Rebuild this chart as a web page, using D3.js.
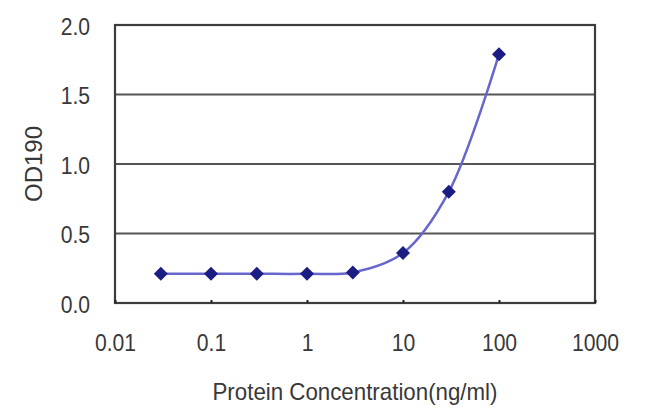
<!DOCTYPE html>
<html><head><meta charset="utf-8">
<script src="https://cdn.jsdelivr.net/npm/d3@7"></script>
<style>body{margin:0;background:#fff}svg{display:block}</style>
</head><body>
<script>
const concentrations = [0.03, 0.1, 0.3, 1, 3, 10, 30, 100];
const odValues = [0.21, 0.21, 0.21, 0.21, 0.22, 0.36, 0.80, 1.79];
const xTicks = [0.01, 0.1, 1, 10, 100, 1000];
const xTickLabels = ["0.01", "0.1", "1", "10", "100", "1000"];
const yTicks = [0, 0.5, 1.0, 1.5, 2.0];
const yTickLabels = ["0.0", "0.5", "1.0", "1.5", "2.0"];
const xTitle = "Protein Concentration(ng/ml)";
const yTitle = "OD190";

const W = 650, H = 420;
const m = {left: 115, right: 55, top: 25, bottom: 117};
const svg = d3.select("body").append("svg").attr("width", W).attr("height", H);
const font = "Liberation Sans, Arial, sans-serif";
const textColor = "#383838";
const fs = 24, sx = 0.88;

const x = d3.scaleLog().domain([0.01, 1000]).range([m.left, W - m.right]);
const y = d3.scaleLinear().domain([0, 2]).range([H - m.bottom, m.top]);

// gridlines
svg.append("g").selectAll("line").data(yTicks.filter(d => d > 0 && d < 2)).join("line")
  .attr("x1", m.left).attr("x2", W - m.right)
  .attr("y1", d => y(d)).attr("y2", d => y(d))
  .attr("stroke", "#555").attr("stroke-width", 2.2);

// frame
svg.append("rect").attr("x", m.left).attr("y", m.top)
  .attr("width", W - m.left - m.right).attr("height", H - m.top - m.bottom)
  .attr("fill", "none").attr("stroke", "#3c3c3c").attr("stroke-width", 2.2);

// x axis (ticks inward)
const xAxis = d3.axisBottom(x).tickValues(xTicks)
  .tickFormat((d, i) => xTickLabels[i]).tickSizeInner(-3).tickSizeOuter(0).tickPadding(0);
const gx = svg.append("g").attr("transform", `translate(0,${H - m.bottom})`).call(xAxis);
gx.select(".domain").remove();
gx.selectAll(".tick line").attr("stroke", "#222").attr("stroke-width", 2);
gx.selectAll(".tick text")
  .attr("y", 0).attr("dy", null)
  .attr("transform", `translate(0,48) scale(${sx},1)`)
  .attr("font-family", font).attr("font-size", fs).attr("fill", textColor);

// y axis
const yAxis = d3.axisLeft(y).tickValues(yTicks)
  .tickFormat((d, i) => yTickLabels[i]).tickSize(0).tickPadding(0);
const gy = svg.append("g").attr("transform", `translate(${m.left},0)`).call(yAxis);
gy.select(".domain").remove();
gy.selectAll(".tick text")
  .attr("x", 0).attr("dy", null).attr("y", 0)
  .attr("transform", `translate(-25,9) scale(${sx},1)`)
  .attr("font-family", font).attr("font-size", fs).attr("fill", textColor);

// titles
svg.append("text").attr("x", 355).attr("y", 400).attr("text-anchor", "middle")
  .attr("font-family", font).attr("font-size", fs).attr("fill", textColor)
  .attr("textLength", 285).attr("lengthAdjust", "spacingAndGlyphs").text(xTitle);
svg.append("text").attr("transform", "translate(42,164) rotate(-90)").attr("text-anchor", "middle")
  .attr("font-family", font).attr("font-size", fs).attr("fill", textColor)
  .attr("textLength", 76).attr("lengthAdjust", "spacingAndGlyphs").text(yTitle);

// curve
const data = concentrations.map((c, i) => ({c, v: odValues[i]}));
const line = d3.line().x(d => x(d.c)).y(d => y(d.v)).curve(d3.curveCatmullRom.alpha(0.5));
svg.append("path").datum(data).attr("d", line)
  .attr("fill", "none").attr("stroke", "#6666cc").attr("stroke-width", 2.5);

// markers
svg.append("g").selectAll("path").data(data).join("path")
  .attr("transform", d => `translate(${x(d.c)},${y(d.v)})`)
  .attr("d", "M0,-7L7,0L0,7L-7,0Z")
  .attr("fill", "#1c1c85");
</script>
</body></html>
